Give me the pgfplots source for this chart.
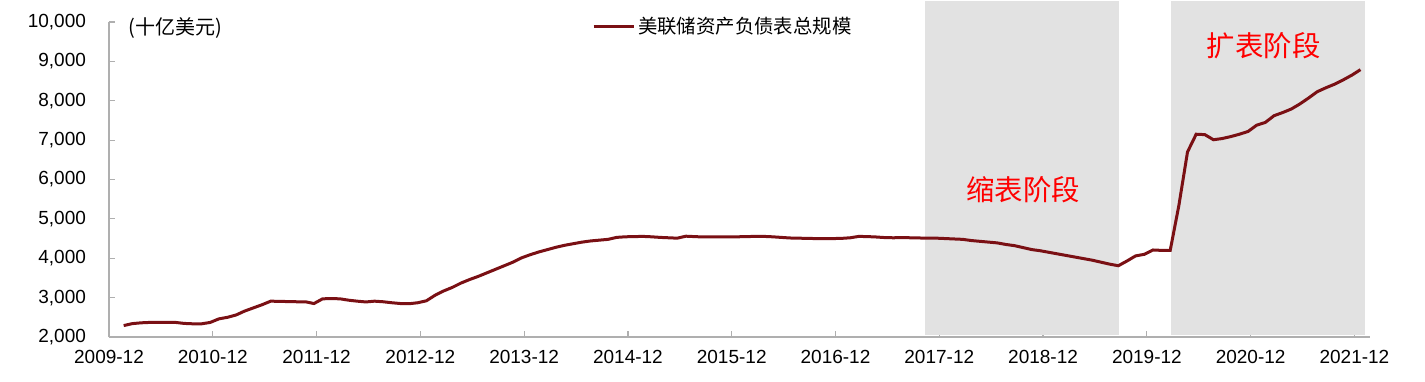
\documentclass[border=0pt]{standalone}
\usepackage{fontspec}
\setmainfont{Liberation Sans}
\newfontfamily\cjk{Noto Sans CJK SC}
\usepackage{pgfplots}
\pgfplotsset{compat=1.18}
\definecolor{fedline}{RGB}{122,16,20}
\definecolor{shade}{RGB}{226,226,226}
\definecolor{axgray}{RGB}{175,175,175}
\begin{document}
\begin{tikzpicture}
\begin{axis}[
  at={(0,0)}, anchor=south west,
  scale only axis, width=630.5pt, height=157.5pt,
  xmin=0, xmax=145.8, ymin=2000, ymax=10000,
  axis x line=bottom, axis y line=left,
  axis line style={draw=axgray, line width=0.6pt, -},
  tick style={draw=axgray, line width=0.6pt},
  tick align=inside, major tick length=2.8pt,
  xtick={0,12,...,144},
  xticklabels={2009-12,2010-12,2011-12,2012-12,2013-12,2014-12,2015-12,2016-12,2017-12,2018-12,2019-12,2020-12,2021-12},
  ytick={2000,3000,...,10000},
  scaled y ticks=false,
  yticklabel style={/pgf/number format/fixed, /pgf/number format/1000 sep={,}, xshift=-8pt},
  /pgf/number format/assume math mode=true,
  ticklabel style={font=\fontsize{9.5}{11}\selectfont, text=black},
  xticklabel style={yshift=-3pt},
  clip=false,
  legend style={at={(rel axis cs:0.3828,0.985)}, anchor=west, draw=none, fill=none,
     inner sep=0pt, font=\cjk\fontsize{9.7}{11}\selectfont, nodes={inner sep=1.5pt}},
  legend image code/.code={\draw[#1] (0pt,0pt) -- (20pt,0pt);},
]
\addplot[fill=shade, draw=none, forget plot] coordinates {(94.4,2060) (94.4,10530) (116.8,10530) (116.8,2060)} -- cycle;
\addplot[fill=shade, draw=none, forget plot] coordinates {(122.8,2060) (122.8,10530) (145.2,10530) (145.2,2060)} -- cycle;
\addplot[fedline, line width=1.5pt] coordinates {
(1.7,2290)(2.7,2340)(3.7,2360)(4.7,2370)(5.7,2372)(6.7,2372)(7.7,2370)(8.7,2345)(9.7,2335)(10.7,2335)(11.7,2370)(12.7,2460)
(13.7,2500)(14.7,2560)(15.7,2660)(16.7,2740)(17.7,2820)(18.7,2910)(19.7,2905)(20.7,2900)(21.7,2895)(22.7,2895)(23.7,2850)(24.7,2970)
(25.7,2975)(26.7,2970)(27.7,2935)(28.7,2910)(29.7,2890)(30.7,2910)(31.7,2895)(32.7,2870)(33.7,2850)(34.7,2845)(35.7,2870)(36.7,2920)
(37.7,3060)(38.7,3170)(39.7,3260)(40.7,3370)(41.7,3460)(42.7,3540)(43.7,3630)(44.7,3720)(45.7,3810)(46.7,3900)(47.7,4010)(48.7,4090)
(49.7,4160)(50.7,4220)(51.7,4280)(52.7,4330)(53.7,4370)(54.7,4410)(55.7,4440)(56.7,4460)(57.7,4480)(58.7,4530)(59.7,4545)(60.7,4550)
(61.7,4555)(62.7,4545)(63.7,4530)(64.7,4520)(65.7,4510)(66.7,4560)(67.7,4550)(68.7,4540)(69.7,4545)(70.7,4540)(71.7,4540)(72.7,4545)
(73.7,4550)(74.7,4555)(75.7,4555)(76.7,4545)(77.7,4530)(78.7,4515)(79.7,4510)(80.7,4505)(81.7,4500)(82.7,4500)(83.7,4500)(84.7,4505)
(85.7,4520)(86.7,4555)(87.7,4550)(88.7,4540)(89.7,4525)(90.7,4520)(91.7,4525)(92.7,4520)(93.7,4515)(94.7,4510)(95.7,4510)(96.7,4500)
(97.7,4490)(98.7,4480)(99.7,4450)(100.7,4430)(101.7,4410)(102.7,4390)(103.7,4350)(104.7,4320)(105.7,4270)(106.7,4220)(107.7,4190)(108.7,4150)
(109.7,4110)(110.7,4070)(111.7,4030)(112.7,3990)(113.7,3950)(114.7,3900)(115.7,3850)(116.7,3810)(117.7,3930)(118.7,4060)(119.7,4100)(120.7,4210)
(121.7,4200)(122.7,4200)(123.7,5340)(124.7,6700)(125.7,7150)(126.7,7140)(127.7,7010)(128.7,7040)(129.7,7090)(130.7,7150)(131.7,7220)(132.7,7380)
(133.7,7450)(134.7,7620)(135.7,7700)(136.7,7790)(137.7,7920)(138.7,8070)(139.7,8230)(140.7,8330)(141.7,8420)(142.7,8530)(143.7,8650)(144.7,8790)
};
\addlegendentry{美联储资产负债表总规模}
\node[anchor=west, inner sep=0pt, font=\cjk\fontsize{10}{11}\selectfont] at (axis cs:2.2,9856) {(十亿美元)};
\node[text=red, inner sep=0pt, font=\cjk\fontsize{14.2}{15}\selectfont] at (axis cs:105.7,5747) {缩表阶段};
\node[text=red, inner sep=0pt, font=\cjk\fontsize{14.2}{15}\selectfont] at (axis cs:133.5,9392) {扩表阶段};
\end{axis}
\pgfresetboundingbox
\path (-54.5pt,-22pt) rectangle (658pt,168.5pt);
\end{tikzpicture}
\end{document}
